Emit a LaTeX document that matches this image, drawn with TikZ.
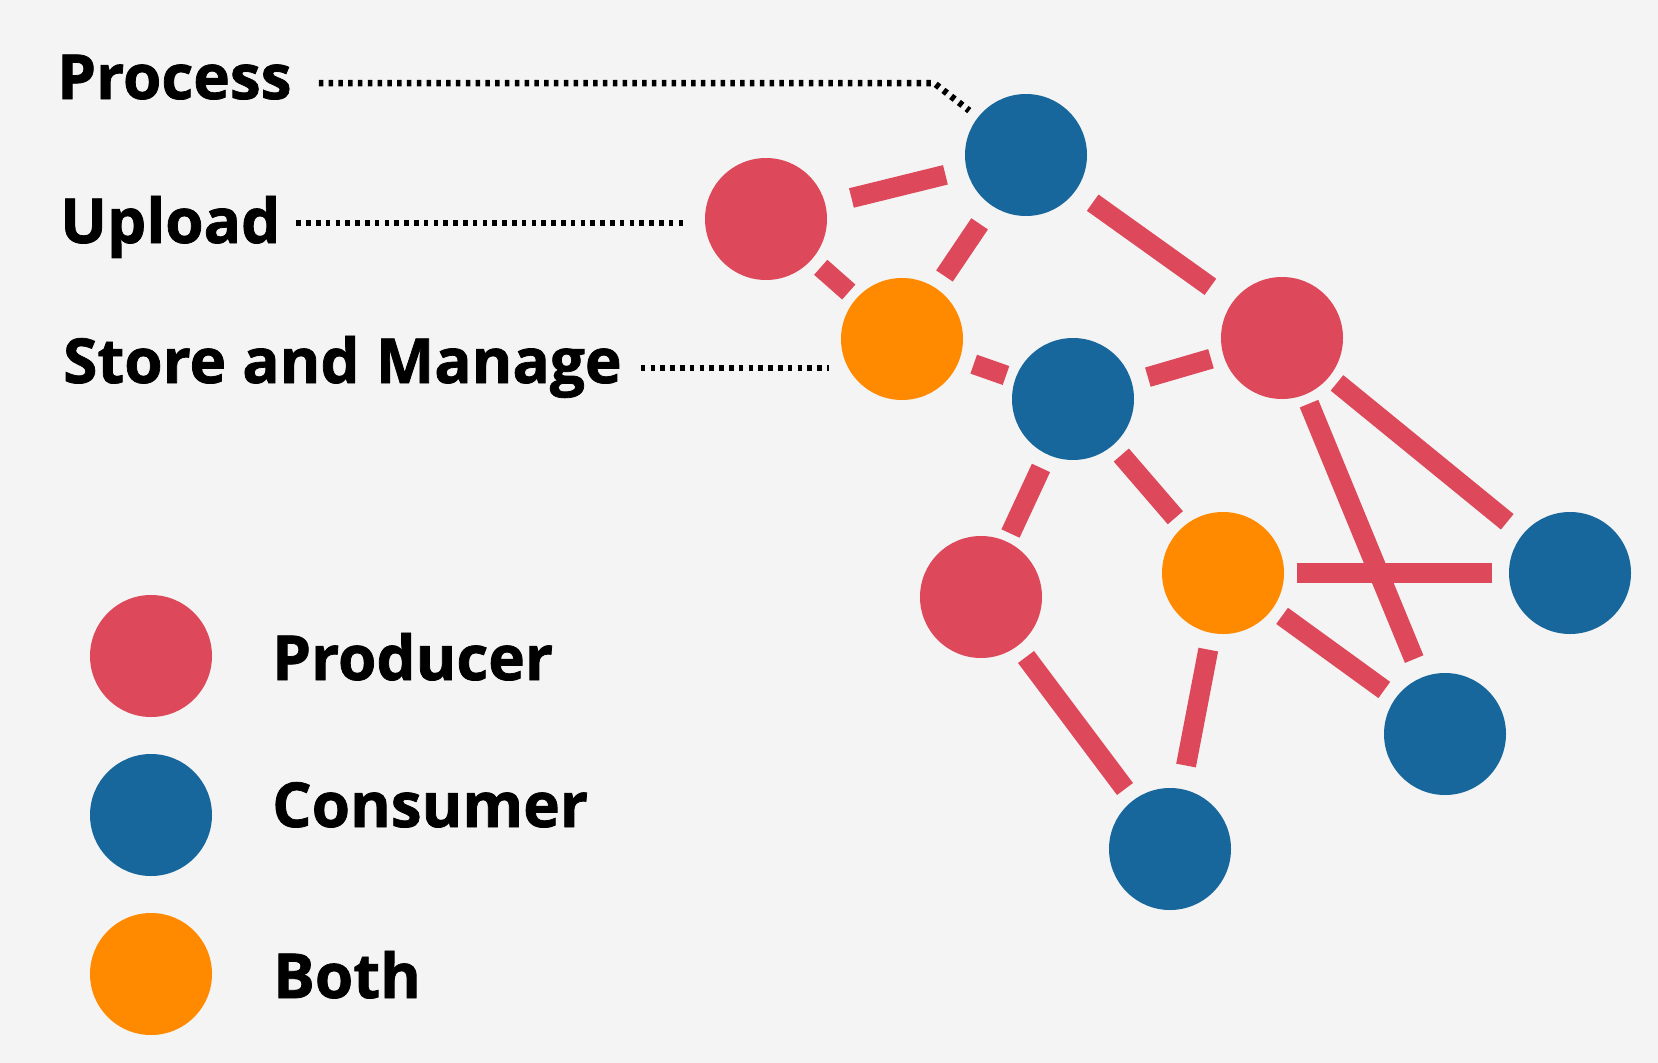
\documentclass[tikz,border=0pt]{standalone}
\usepackage{fontspec}
\setmainfont{Open Sans}[BoldFeatures={FakeBold=1.2}]
\usepackage{xcolor}
\usepackage{tikz}
\usetikzlibrary{positioning}

\definecolor{prodred}{HTML}{DD485B}
\definecolor{consblue}{HTML}{17679C}
\definecolor{dualorange}{HTML}{FF8A00}
\definecolor{paper}{HTML}{F4F4F4}

\begin{document}
\begin{tikzpicture}[x=1pt, y=-1pt]
            \tikzstyle{hub} = [circle, minimum size=122pt, inner sep=0pt, outer sep=0pt]
            \tikzstyle{prod} = [hub, fill=prodred]
            \tikzstyle{cons} = [hub, fill=consblue]
            \tikzstyle{dual} = [hub, fill=dualorange]
            \tikzstyle{lbl} = [anchor=base west, inner sep=0pt, font=\fontsize{62}{70}\selectfont\bfseries]
            \tikzstyle{link} = [line width=20pt, prodred]
            \tikzstyle{leader} = [line width=6.5pt, dash pattern=on 4.5pt off 5.3pt, black]

            \fill [paper] (0, 0) rectangle (1658, 1063);

            % network
            \node [cons] (P) at (1026, 155) {};
            \node [prod] (U) at (766, 219) {};
            \node [dual] (O1) at (902, 339) {};
            \node [cons] (B2) at (1073, 399) {};
            \node [prod] (R2) at (1282, 338) {};
            \node [prod] (R3) at (981, 597) {};
            \node [dual] (O2) at (1223, 573) {};
            \node [cons] (B3) at (1570, 573) {};
            \node [cons] (B4) at (1445, 734) {};
            \node [cons] (B5) at (1170, 849) {};

            \foreach \a/\b/\s/\e in {U/P/27/22, P/R2/21/27, P/O1/22/15, U/O1/12/10,
                                     O1/B2/15/10, B2/R2/17/13, B2/R3/15/9, B2/O2/13/12,
                                     R2/B3/10/20, R2/B4/10/20, O2/B3/13/17, O2/B4/12/14,
                                     O2/B5/17/24, R3/B5/14/14}
                \draw [link, shorten <=\s pt, shorten >=\e pt] (\a) -- (\b);

            % layer labels
            \node [lbl] (lblProcess) at (57, 99) {Process};
            \node [lbl] (lblUpload) at (60, 243) {Upload};
            \node [lbl] (lblStore) at (63, 383) {Store and Manage};
            \coordinate (bend) at (934, 83);

            \draw [leader, shorten >=11pt] ([xshift=27pt, yshift=16pt]lblProcess.base east) -- (bend) -- (P);
            \draw [leader, shorten >=18pt] ([xshift=16pt, yshift=20pt]lblUpload.base east)
                -- ([yshift=20pt]lblUpload.base east -| U.west);
            \draw [leader, shorten >=12pt] ([xshift=19pt, yshift=15pt]lblStore.base east)
                -- ([yshift=15pt]lblStore.base east -| O1.west);

            % legend
            \node [prod] (keyProd) at (151, 656) {};
            \node [cons] (keyCons) at (151, 815) {};
            \node [dual] (keyDual) at (151, 974) {};
            \node [lbl] (lblProd) at (272, 680) {Producer};
            \node [lbl] (lblCons) at (272, 827) {Consumer};
            \node [lbl] (lblDual) at (273, 998) {Both};
        \end{tikzpicture}
\end{document}
